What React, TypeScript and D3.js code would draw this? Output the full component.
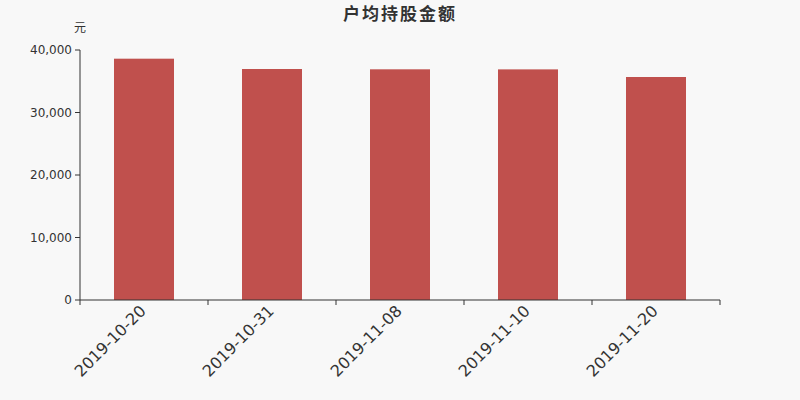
import * as d3 from 'd3';
import * as React from 'react';

const { useRef, useEffect } = React;

const width = 800;
const height = 400;
const margin = { top: 50, right: 80, bottom: 100, left: 80 };

const title = '户均持股金额';
const unit = '元';
const dates = ['2019-10-20', '2019-10-31', '2019-11-08', '2019-11-10', '2019-11-20'];
const values = [38610, 36960, 36910, 36900, 35680];
const yTicks = [0, 10000, 20000, 30000, 40000];

export default () => {
  const rootRef = useRef<SVGSVGElement>(null);

  useEffect(() => {
    const svgEl = rootRef.current;
    if (!svgEl) {
      return;
    }
    const svg = d3.select(svgEl);
    svg.selectAll('*').remove();

    svg.append('rect').attr('width', width).attr('height', height).attr('fill', '#f8f8f8');

    const x = d3
      .scaleBand()
      .domain(dates)
      .range([margin.left, width - margin.right]);

    const y = d3
      .scaleLinear()
      .domain([0, 40000])
      .range([height - margin.bottom, margin.top]);

    const barWidth = 60;

    svg
      .append('g')
      .attr('fill', '#c0504d')
      .selectAll('rect')
      .data(values)
      .join('rect')
      .attr('x', (d, i) => (x(dates[i]) as number) + x.bandwidth() / 2 - barWidth / 2)
      .attr('y', d => y(d))
      .attr('width', barWidth)
      .attr('height', d => y(0) - y(d));

    // x axis
    const xAxis = svg
      .append('g')
      .attr('transform', `translate(0,${height - margin.bottom})`);
    xAxis
      .append('line')
      .attr('x1', margin.left)
      .attr('x2', width - margin.right)
      .attr('stroke', '#333');
    const edges = [...dates.map(d => x(d) as number), width - margin.right];
    xAxis
      .selectAll('line.tick')
      .data(edges)
      .join('line')
      .attr('class', 'tick')
      .attr('x1', d => d)
      .attr('x2', d => d)
      .attr('y1', 0)
      .attr('y2', 5)
      .attr('stroke', '#333');
    xAxis
      .selectAll('text')
      .data(dates)
      .join('text')
      .attr('transform', d => `translate(${(x(d) as number) + x.bandwidth() / 2 - 1},${8}) rotate(-45)`)
      .attr('text-anchor', 'end')
      .attr('dy', '0.35em')
      .attr('font-size', 16)
      .attr('fill', '#333')
      .text(d => d);

    // y axis
    const yAxis = svg.append('g').attr('transform', `translate(${margin.left},0)`);
    yAxis
      .append('line')
      .attr('y1', y(0))
      .attr('y2', y(40000))
      .attr('stroke', '#333');
    const yt = yAxis
      .selectAll('g')
      .data(yTicks)
      .join('g')
      .attr('transform', d => `translate(0,${y(d)})`);
    yt.append('line').attr('x1', -5).attr('x2', 0).attr('stroke', '#333');
    yt.append('text')
      .attr('x', -8)
      .attr('dy', '0.35em')
      .attr('text-anchor', 'end')
      .attr('font-size', 12)
      .attr('fill', '#333')
      .text(d => d3.format(',')(d));

    svg
      .append('text')
      .attr('x', margin.left)
      .attr('y', 28)
      .attr('dy', '0.35em')
      .attr('text-anchor', 'middle')
      .attr('font-size', 12)
      .attr('fill', '#333')
      .text(unit);

    svg
      .append('text')
      .attr('x', width / 2)
      .attr('y', 14)
      .attr('dy', '0.35em')
      .attr('text-anchor', 'middle')
      .attr('font-size', 17)
      .attr('font-weight', 'bold')
      .attr('letter-spacing', 2)
      .attr('fill', '#333')
      .text(title);
  }, []);

  return (
    <svg
      ref={rootRef}
      width={width}
      height={height}
      style={{
        display: 'block',
        position: 'absolute',
        left: 0,
        top: 0,
        fontFamily: '"DejaVu Sans", "Noto Sans CJK SC", sans-serif',
      }}
    />
  );
};
